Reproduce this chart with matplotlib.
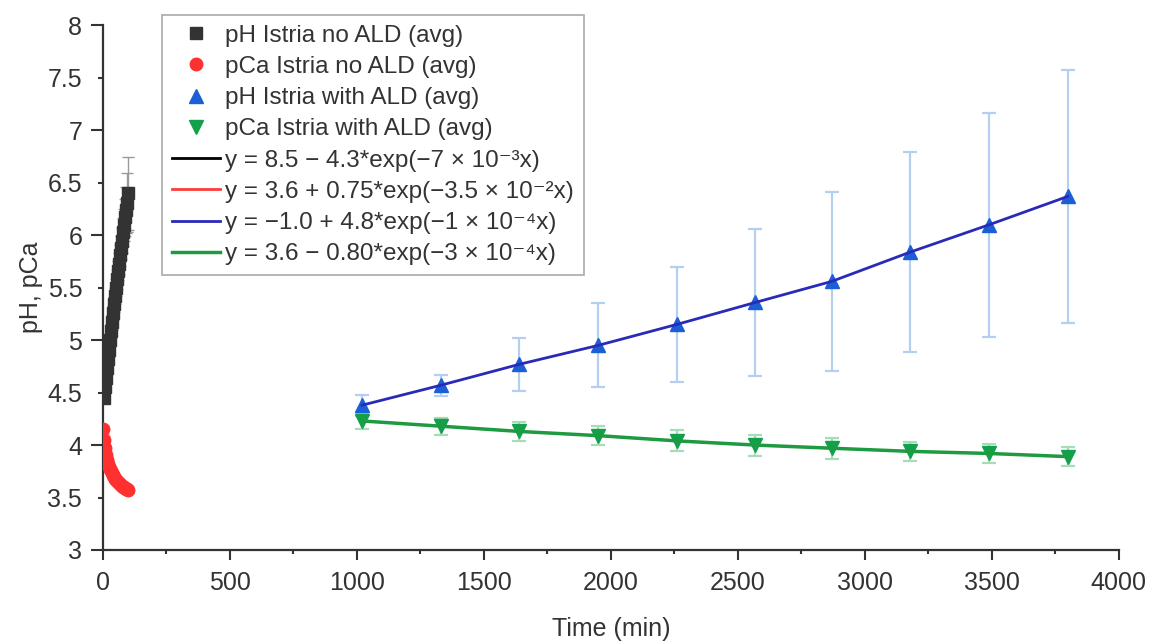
"""pH and pCa evolution for Istria samples with and without ALD coating."""

import matplotlib

matplotlib.use("Agg")
import matplotlib.pyplot as plt
from matplotlib.ticker import FixedLocator, FuncFormatter, MultipleLocator

plt.rcParams["font.family"] = ["Liberation Sans", "DejaVu Sans"]

# --- no ALD: short, densely sampled run (min) ---
t_ph_no_ald = [4, 8, 12, 16, 20, 24, 28, 32, 36, 40, 44, 48, 52,
               56, 60, 64, 68, 72, 76, 80, 84, 88, 92, 96, 100]
ph_no_ald = [4.45, 4.55, 4.64, 4.73, 4.82, 4.91, 5.00, 5.09, 5.17, 5.26,
             5.34, 5.42, 5.50, 5.58, 5.66, 5.73, 5.81, 5.88, 5.95, 6.03,
             6.10, 6.17, 6.24, 6.31, 6.40]
ph_no_ald_err = [0.04, 0.04, 0.05, 0.05, 0.05, 0.06, 0.06, 0.06, 0.07, 0.07,
                 0.07, 0.08, 0.08, 0.09, 0.09, 0.10, 0.10, 0.11, 0.12, 0.13,
                 0.15, 0.18, 0.22, 0.28, 0.35]

t_pca_no_ald = [0, 4, 8, 12, 16, 20, 24, 28, 32, 36, 40, 44, 48, 52,
                56, 60, 64, 68, 72, 76, 80, 84, 88, 92, 96, 100]
pca_no_ald = [4.15, 4.05, 3.97, 3.91, 3.86, 3.82, 3.79, 3.77, 3.75, 3.73,
              3.71, 3.70, 3.68, 3.67, 3.66, 3.65, 3.64, 3.63, 3.62, 3.61,
              3.60, 3.60, 3.59, 3.58, 3.58, 3.57]
pca_no_ald_err = [0.04, 0.04, 0.03, 0.03, 0.03, 0.03, 0.03, 0.03, 0.03, 0.03,
                  0.03, 0.03, 0.03, 0.03, 0.03, 0.03, 0.03, 0.03, 0.03, 0.03,
                  0.03, 0.03, 0.03, 0.03, 0.03, 0.03]

# --- with ALD: long run ---
t_ald = [1020, 1330, 1640, 1950, 2260, 2570, 2870, 3180, 3490, 3800]
ph_ald = [4.38, 4.57, 4.77, 4.95, 5.15, 5.36, 5.56, 5.84, 6.10, 6.37]
ph_ald_err = [0.10, 0.10, 0.25, 0.40, 0.55, 0.70, 0.85, 0.95, 1.07, 1.21]
pca_ald = [4.23, 4.18, 4.13, 4.09, 4.04, 4.00, 3.97, 3.94, 3.92, 3.89]
pca_ald_err = [0.08, 0.08, 0.09, 0.09, 0.10, 0.10, 0.10, 0.09, 0.09, 0.09]

fit_labels = [
    "y = 8.5 − 4.3*exp(−7 × 10⁻³x)",
    "y = 3.6 + 0.75*exp(−3.5 × 10⁻²x)",
    "y = −1.0 + 4.8*exp(−1 × 10⁻⁴x)",
    "y = 3.6 − 0.80*exp(−3 × 10⁻⁴x)",
]

fig = plt.figure(figsize=(11.51, 6.41), dpi=100)
ax = fig.add_axes([0.0895, 0.142, 0.8823, 0.8183])

ink = "#333333"

# error bars first so markers sit on top
ax.errorbar(t_ph_no_ald, ph_no_ald, yerr=ph_no_ald_err, fmt="none",
            ecolor="#9a9a9a", elinewidth=1.0, capsize=4, capthick=1.0, zorder=1)
ax.errorbar(t_pca_no_ald, pca_no_ald, yerr=pca_no_ald_err, fmt="none",
            ecolor="#f5a0a0", elinewidth=1.0, capsize=4, capthick=1.0, zorder=1)
ax.errorbar(t_ald, ph_ald, yerr=ph_ald_err, fmt="none",
            ecolor="#b4cff0", elinewidth=1.6, capsize=5, capthick=1.6, zorder=1)
ax.errorbar(t_ald, pca_ald, yerr=pca_ald_err, fmt="none",
            ecolor="#a6dcb6", elinewidth=1.6, capsize=5, capthick=1.6, zorder=1)

# fitted curves
l1, = ax.plot(t_ph_no_ald, ph_no_ald, color="black", lw=2, zorder=2)
l2, = ax.plot(t_pca_no_ald, pca_no_ald, color="#ff3b3b", lw=2, zorder=2)
l3, = ax.plot(t_ald, ph_ald, color="#2a2ab8", lw=2, zorder=4)
l4, = ax.plot(t_ald, pca_ald, color="#1e9a40", lw=2.5, zorder=4)

# averaged measurements
m1, = ax.plot(t_ph_no_ald, ph_no_ald, ls="none", marker="s", ms=9,
              color="#333333", zorder=3)
m2, = ax.plot(t_pca_no_ald, pca_no_ald, ls="none", marker="o", ms=9,
              color="#ff3030", zorder=3)
m3, = ax.plot(t_ald, ph_ald, ls="none", marker="^", ms=10,
              color="#1a5fd6", zorder=3)
m4, = ax.plot(t_ald, pca_ald, ls="none", marker="v", ms=10,
              color="#12a04a", zorder=3)

ax.set_xlim(0, 4000)
ax.set_ylim(3, 8)

ax.xaxis.set_major_locator(MultipleLocator(500))
ax.xaxis.set_minor_locator(MultipleLocator(250))
ax.yaxis.set_major_locator(MultipleLocator(1))
ax.yaxis.set_minor_locator(FixedLocator([3.5, 4.5, 5.5, 6.5, 7.5]))
ax.yaxis.set_major_formatter(FuncFormatter(lambda v, p: f"{v:g}"))
ax.yaxis.set_minor_formatter(FuncFormatter(lambda v, p: f"{v:g}"))

ax.tick_params(axis="x", which="major", direction="out", length=7, width=1.5,
               pad=8, labelsize=18, colors=ink)
ax.tick_params(axis="x", which="minor", direction="out", length=3, width=1.5,
               colors=ink)
ax.tick_params(axis="y", which="major", direction="out", length=8.5, width=1.5,
               pad=6.5, labelsize=18, colors=ink)
ax.tick_params(axis="y", which="minor", direction="out", length=3.5, width=1.5,
               pad=11.5, labelsize=18, colors=ink, labelleft=True)

for side in ("top", "right"):
    ax.spines[side].set_visible(False)
for side in ("left", "bottom"):
    ax.spines[side].set_linewidth(1.6)
    ax.spines[side].set_color(ink)

ax.set_xlabel("Time (min)", fontsize=18, color=ink, labelpad=16)
ax.set_ylabel("pH, pCa", fontsize=18, color=ink, labelpad=3)

handles = [m1, m2, m3, m4, l1, l2, l3, l4]
labels = [
    "pH Istria no ALD (avg)",
    "pCa Istria no ALD (avg)",
    "pH Istria with ALD (avg)",
    "pCa Istria with ALD (avg)",
] + fit_labels
leg = fig.legend(handles, labels, loc="upper left",
                 bbox_to_anchor=(162 / 1151, 1 - 15 / 641),
                 fontsize=17.5, frameon=True, fancybox=False, framealpha=1,
                 edgecolor="#aaaaaa", borderpad=0.4, labelspacing=0.38,
                 handlelength=2.0, handletextpad=0.2, borderaxespad=0)
leg.get_frame().set_linewidth(1.2)
for txt in leg.get_texts():
    txt.set_color(ink)

fig.savefig("out.png", dpi=100)
plt.close(fig)
